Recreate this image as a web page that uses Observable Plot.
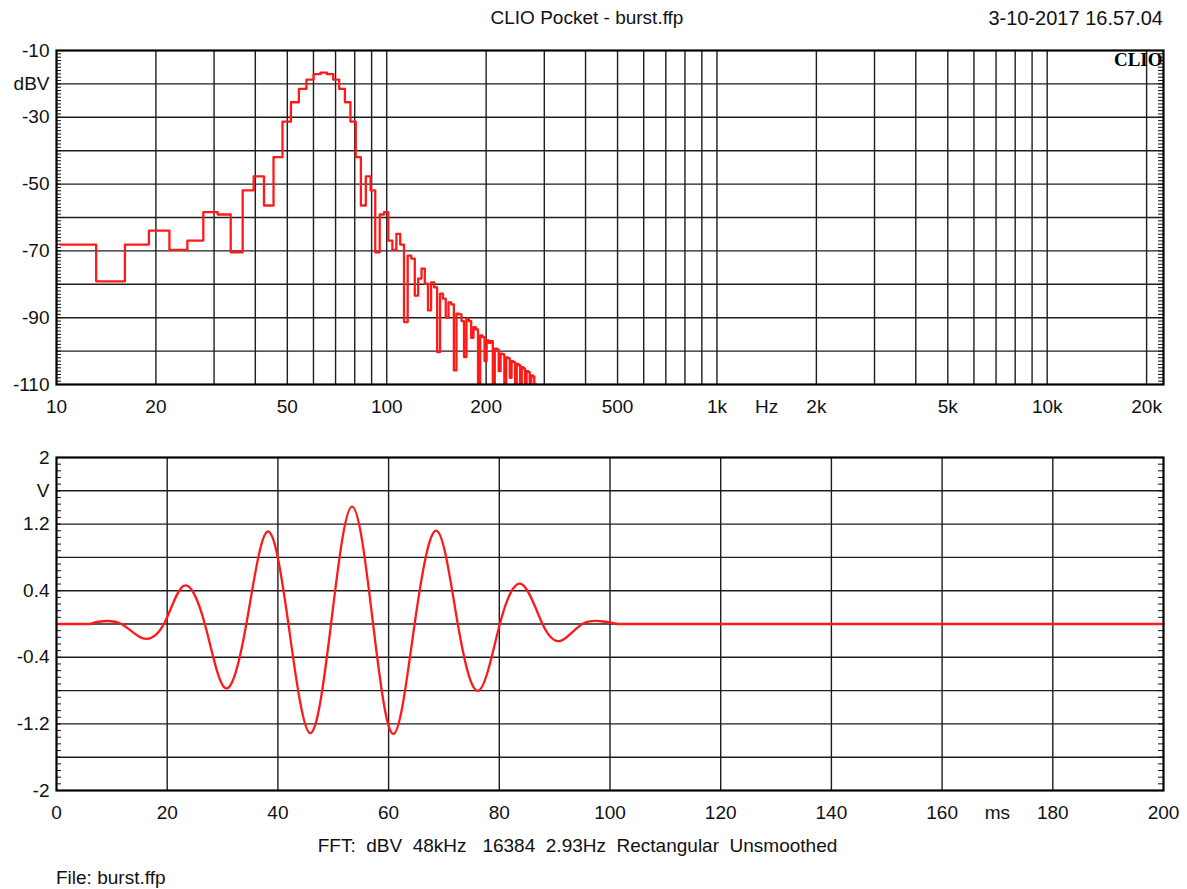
<!DOCTYPE html>
<html><head><meta charset="utf-8">
<script src="https://cdn.jsdelivr.net/npm/d3@7"></script>
<script src="https://cdn.jsdelivr.net/npm/@observablehq/plot@0.6"></script>
<style>
body{margin:0;background:#fff;font-family:"Liberation Sans",Arial,sans-serif;}
#wrap{position:relative;width:1187px;height:889px;overflow:hidden;background:#fff}
.t{position:absolute;font-size:19px;color:#111;white-space:pre;line-height:20px}
#topChart,#bottomChart{position:absolute;left:0}
#topChart{top:0}
#bottomChart{top:424px}
</style></head><body><div id="wrap">
<div id="topChart"></div>
<div id="bottomChart"></div>
<div class="t" id="title" style="left:0;width:1174px;text-align:center;top:8px">CLIO Pocket - burst.ffp</div>
<div class="t" id="date" style="right:24px;top:8px;font-size:20px">3-10-2017 16.57.04</div>
<div class="t" id="caption" style="left:0;width:1155px;text-align:center;top:836px">FFT:  dBV  48kHz   16384  2.93Hz  Rectangular  Unsmoothed</div>
<div class="t" id="file" style="left:56px;top:868px">File: burst.ffp</div>
</div>
<script>
// ---------- Spectrum (top) ----------
const binWidthHz = 2.93;          // FFT resolution
const firstBin = 4;               // first visible FFT bin index
const spectrumDbV = [
  -68.1, -79.1, -68.1, -63.9, -69.7, -66.9, -58.4, -59.1, -70.4, -51.9,
  -47.7, -56.4, -41.9, -31.3, -25.5, -21.5, -18.7, -17.1, -16.6, -17.1,
  -18.7, -21.5, -25.5, -31.3, -41.9, -56.4, -47.7, -51.9, -70.4, -59.1,
  -58.4, -66.9, -69.7, -64.9, -68.1, -91.3, -71.4, -72.3, -83.4, -78.3,
  -75.3, -79.8, -87.8, -79.4, -80.9, -100.3, -82.8, -84.3, -90.0, -85.4,
  -86.0, -105.8, -88.8, -89.0, -91.0, -101.8, -90.3, -91.0, -96.0, -92.8,
  -93.5, -110, -95.3, -95.8, -103, -96.8, -97.5, -97.0, -110, -99.3,
  -99.5, -106, -100.8, -101.0, -110, -101.9, -102.2, -108, -103.0, -103.3,
  -110, -103.8, -104.2, -110, -104.8, -105.2, -110, -106.0, -106.3, -110,
  -107.3, -107.6, -110
];
const freqGrid = [20,30,40,50,60,70,80,90,100,200,300,400,500,600,700,800,900,
  1000,2000,3000,4000,5000,6000,7000,8000,9000,10000,20000];
const freqTickValues = [10,20,50,100,200,500,1000,1414,2000,5000,10000,20000];
const freqTickLabels = ["10","20","50","100","200","500","1k","Hz","2k","5k","10k","20k"];
const dbGrid = [-20,-30,-40,-50,-60,-70,-80,-90,-100];
const dbTickValues = [-10,-20,-30,-50,-70,-90,-110];
const dbTickLabels = ["-10","dBV","-30","-50","-70","-90","-110"];

// ---------- Time signal (bottom) ----------
const leadMs = [0, 6.0];                 // flat before the burst
const leadV = [0, 0];
const burstMs = [6.0, 7.9, 11.7, 15.5, 19.4, 23.0, 26.8, 30.5, 34.3, 38.1, 41.9, 45.8, 49.6,
  53.4, 57.2, 60.9, 64.7, 68.7, 72.5, 76.3, 80.1, 84.0, 87.8, 91.2, 95.0, 98.8, 101.3];
const burstV = [0, 0.03, 0, -0.17, 0, 0.46, 0, -0.77, 0, 1.11, 0, -1.31, 0,
  1.41, 0, -1.32, 0, 1.12, 0, -0.80, 0, 0.48, 0, -0.20, 0, 0.03, 0];
const tailMs = [101.3, 200];             // flat after the burst
const tailV = [0, 0];
const timeGrid = [20,40,60,80,100,120,140,160,180];
const timeTickValues = [0,20,40,60,80,100,120,140,160,170,180,200];
const timeTickLabels = ["0","20","40","60","80","100","120","140","160","ms","180","200"];
const voltGrid = [1.6,1.2,0.8,0.4,0,-0.4,-0.8,-1.2,-1.6];
const voltTickValues = [2,1.6,1.2,0.4,-0.4,-1.2,-2];
const voltTickLabels = ["2","V","1.2","0.4","-0.4","-1.2","-2"];

const W = 1187, ML = 56, MR = 24, innerW = W - ML - MR;
const font = "Liberation Sans, Arial, sans-serif";
const gridStyle = {stroke: "#1e1e1e", strokeWidth: 1.4, strokeOpacity: 1};
const red = "#ff1a1a";

const specData = spectrumDbV.map((v, i) => {
  const k = firstBin + i;
  return {f: Math.max(10, (k - 0.5) * binWidthHz), db: v};
});
const lastK = firstBin + spectrumDbV.length - 1;
specData.push({f: (lastK + 0.5) * binWidthHz, db: spectrumDbV[spectrumDbV.length - 1]});

const fLabel = new Map(freqTickValues.map((v, i) => [v, freqTickLabels[i]]));
const dbLabel = new Map(dbTickValues.map((v, i) => [v, dbTickLabels[i]]));
const tLabel = new Map(timeTickValues.map((v, i) => [v, timeTickLabels[i]]));
const vLabel = new Map(voltTickValues.map((v, i) => [v, voltTickLabels[i]]));

const minorDb = d3.range(-110, -9, 1);
const minorV = d3.range(0, 51).map(i => -2 + i * 0.08);

const spectrumPlot = Plot.plot({
  width: W, height: 424,
  marginLeft: ML, marginRight: MR, marginTop: 50, marginBottom: 40,
  style: {fontFamily: font, fontSize: "19px", color: "#111", background: "#fff"},
  x: {type: "log", domain: [10, 22500], axis: null},
  y: {domain: [-110, -10]},
  marks: [
    Plot.ruleX(freqGrid, gridStyle),
    Plot.ruleY(dbGrid, gridStyle),
    Plot.tickY(minorDb, {y: d => d, insetRight: innerW - 5, stroke: "#111", strokeWidth: 1}),
    Plot.tickY(minorDb, {y: d => d, insetLeft: innerW - 5, stroke: "#111", strokeWidth: 1}),
    Plot.line(specData, {x: "f", y: "db", curve: "step-after", stroke: red, strokeWidth: 2.3, clip: true}),
    Plot.frame({stroke: "#000", strokeWidth: 2.2}),
    Plot.text(["CLIO"], {frameAnchor: "top-right", text: d => d, dx: -1, dy: 2,
      fontFamily: "Liberation Serif, DejaVu Serif, serif", fontWeight: "bold", fontSize: 19, fill: "#000"}),
    Plot.text(freqTickValues, {x: d => d, frameAnchor: "bottom", lineAnchor: "top", dy: 15,
      text: d => fLabel.get(d), fontSize: 19, fill: "#111"}),
    Plot.axisY(dbTickValues, {anchor: "left", tickSize: 0, tickPadding: 7, fontSize: 19,
      tickFormat: d => dbLabel.get(d), label: null})
  ]
});
document.getElementById("topChart").appendChild(spectrumPlot);

const toRows = (ts, vs) => ts.map((t, i) => ({t, v: vs[i]}));
const timePlot = Plot.plot({
  width: W, height: 406,
  marginLeft: ML, marginRight: MR, marginTop: 33, marginBottom: 40,
  style: {fontFamily: font, fontSize: "19px", color: "#111", background: "#fff"},
  x: {domain: [0, 200], axis: null},
  y: {domain: [-2, 2]},
  marks: [
    Plot.ruleX(timeGrid, gridStyle),
    Plot.ruleY(voltGrid, gridStyle),
    Plot.tickY(minorV, {y: d => d, insetRight: innerW - 5, stroke: "#111", strokeWidth: 1}),
    Plot.tickY(minorV, {y: d => d, insetLeft: innerW - 5, stroke: "#111", strokeWidth: 1}),
    Plot.line(toRows(leadMs, leadV), {x: "t", y: "v", stroke: red, strokeWidth: 2.3}),
    Plot.line(toRows(burstMs, burstV), {x: "t", y: "v", curve: "natural", stroke: red, strokeWidth: 2.3}),
    Plot.line(toRows(tailMs, tailV), {x: "t", y: "v", stroke: red, strokeWidth: 2.3}),
    Plot.frame({stroke: "#000", strokeWidth: 2.2}),
    Plot.text(timeTickValues, {x: d => d, frameAnchor: "bottom", lineAnchor: "top", dy: 15,
      text: d => tLabel.get(d), fontSize: 19, fill: "#111"}),
    Plot.axisY(voltTickValues, {anchor: "left", tickSize: 0, tickPadding: 7, fontSize: 19,
      tickFormat: d => vLabel.get(d), label: null})
  ]
});
document.getElementById("bottomChart").appendChild(timePlot);
</script>
</body></html>
